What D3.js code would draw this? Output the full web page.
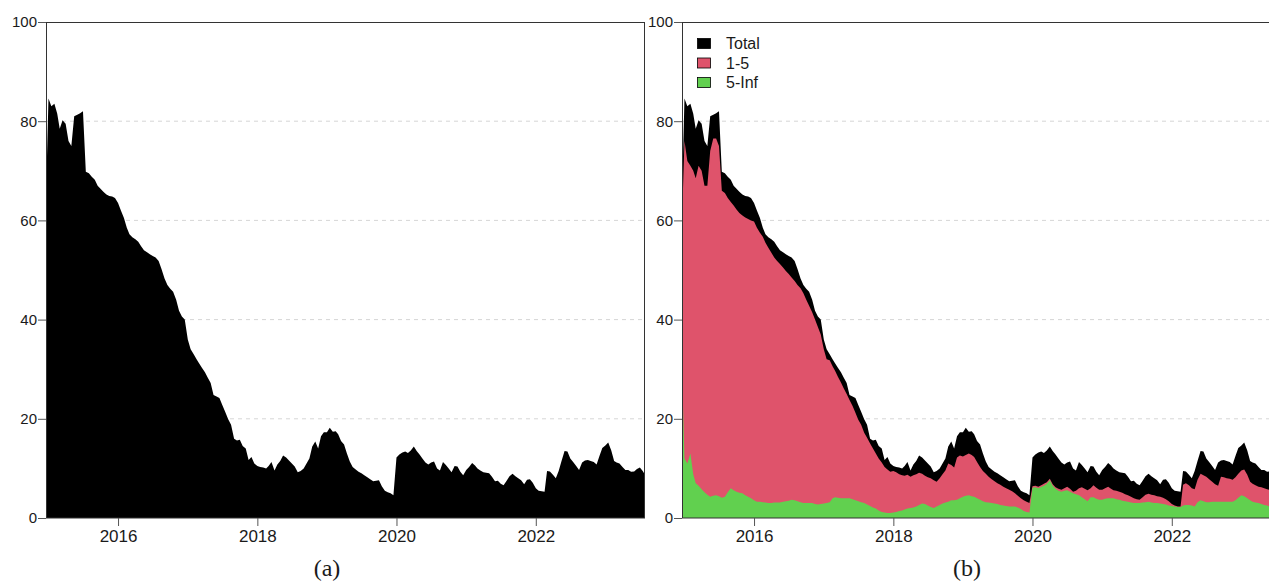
<!DOCTYPE html>
<html>
<head>
<meta charset="utf-8">
<script src="https://cdn.jsdelivr.net/npm/d3@7"></script>
<style>
  body { margin: 0; background: #fff; }
  svg { display: block; }
  .axis text { font-family: "Liberation Sans", Arial, sans-serif; fill: #1a1a1a; }
  .axis.y text { font-size: 15px; }
  .axis.x text { font-size: 17px; }
  .axis line { stroke: #555; }
  .axis path { display: none; }
  .legend text { font-family: "Liberation Sans", Arial, sans-serif; font-size: 16px; fill: #1a1a1a; }
  .caption { font-family: "Liberation Serif", "Times New Roman", serif; font-size: 24px; fill: #1a1a1a; }
</style>
</head>
<body>
<svg id="chart" width="1269" height="581"></svg>
<script>
// Share (%) per observation date, semi-monthly (1st and 16th) from Jan 2015,
// with the first and last observation of the sample added at both ends.
const firstObs = "2014-12-19";
const lastObs = "2023-07-28";

const seriesNames = ["Total", "1-5", "5-Inf"];
const seriesColors = ["#000000", "#DF536B", "#61D04F"];
const yTicks = [0, 20, 40, 60, 80, 100];
const xTickYears = [2016, 2018, 2020, 2022];
const panelCaptions = ["(a)", "(b)"];

const totalShare = [
  65,
  84.6, 83, 83.5, 81.5, 78.5, 80.2, 79.5, 76, 75, 81, 81.3, 81.6, 82, 69.8, 69.5, 68.8, 68.2, 67, 66.4, 65.8, 65.2, 64.9, 64.8, 64.5,
  63.5, 62, 60.5, 58.5, 57.2, 56.6, 56.2, 55.7, 54.8, 54, 53.6, 53.2, 52.8, 52.5, 51.8, 50.2, 48.3, 47, 46.2, 45.6, 44, 41.8, 40.6, 40,
  36, 34, 33, 32, 31.2, 30.3, 29.4, 28.3, 27.2, 24.8, 24.5, 24.2, 22.8, 21.4, 19.9, 18.8, 16, 15.6, 15.8, 14.5, 14, 11.7, 12.3, 11,
  10.5, 10.3, 10.2, 10, 10.5, 11.3, 9.6, 10.8, 11.5, 12.6, 12.2, 11.6, 11, 10.4, 9.2, 9.5, 10, 11, 12, 14.4, 15.4, 14, 16.5, 17.3,
  17.3, 18.2, 17.4, 17.5, 16.9, 15.5, 14.8, 13, 11.4, 10.3, 9.8, 9.3, 9, 8.6, 8.2, 7.8, 7.4, 7.5, 7.6, 6.4, 5.5, 5.2, 5, 4.6,
  12.2, 12.8, 13.2, 13.4, 13.1, 13.6, 14.4, 13.5, 12.8, 12, 11.2, 10.8, 11.2, 11.4, 10, 9.6, 11.3, 10.7, 10, 9.2, 10.5, 10.4, 9.3, 8.6,
  9.7, 10.3, 11.1, 10.6, 10, 9.6, 9.2, 9.1, 9, 8.3, 7.4, 7.5, 6.9, 6.6, 7.5, 8.4, 8.9, 8.4, 8, 7.6, 6.8, 7.7, 7.8, 7.1,
  6, 5.5, 5.4, 5.3, 9.5, 9.4, 8.7, 8, 9.5, 11.5, 13.5, 13.4, 12, 11.3, 10.5, 9.7, 11.2, 11.6, 11.7, 11.5, 11.3, 10.8, 12.5, 14.1,
  14.6, 15.2, 13.6, 11.5, 11.2, 11, 10.3, 9.7, 9.7, 9.3, 9.4, 9.9, 10.2, 9.5,
  8.7
];

const share1to5 = [
  60,
  76, 72, 71, 70, 68.5, 71, 70, 67, 67, 74, 76.5, 76.5, 75, 66, 65.5, 64.5, 63.7, 63, 62.2, 61.5, 61, 60.6, 60.3, 60,
  59.8, 58.5, 57.5, 56.7, 55.5, 54.5, 53.5, 52.5, 51.8, 51.2, 50.5, 49.8, 49.2, 48.5, 47.8, 47, 46.3, 45.3, 44, 42.8, 41.5, 40, 38.5, 37,
  34, 32, 31.8, 30.6, 29.7, 28.5, 27.3, 26.1, 25, 23.8, 22.6, 21.2, 19.8, 18.8, 17.2, 16.2, 15, 14, 13, 12, 11.2, 10.3, 9.8, 9.3,
  9.5, 9.2, 8.8, 8.6, 8.5, 8.7, 8.3, 8.6, 8.8, 9.1, 8.9, 8.5, 8.2, 8, 7.6, 7.3, 8, 8.8, 9.6, 11, 10.7, 10.2, 12.2, 12.6,
  12.4, 12.7, 13, 12.7, 12.3, 11.3, 10.3, 9.5, 8.9, 8.3, 7.8, 7.4, 7, 6.7, 6.3, 6, 5.7, 5.4, 5, 4.5, 4, 3.6, 3.3, 3,
  6.4, 6.5, 6.3, 6.6, 6.9, 7.2, 7.9, 6.8, 6.2, 5.9, 5.7, 6, 6.3, 5.9, 5.3, 5.5, 6, 6.2, 5.9, 5.6, 6, 6.6, 6.1, 5.7,
  5.7, 6, 6.3, 5.9, 5.6, 5.5, 5.3, 5.1, 4.8, 4.6, 4.3, 4, 3.8, 3.7, 4.2, 4.7, 4.9, 4.7, 4.6, 4.4, 4.3, 4.1, 3.8, 3.4,
  2.8, 2.5, 2.3, 2.3, 6.7, 7, 6.6, 6, 5.8, 7.7, 8.9, 8.6, 8.3, 7.8, 7.3, 6.8, 6.5, 8.3, 8.2, 8, 7.9, 7.7, 8.2, 8.9,
  9.6, 9.8, 8.7, 7.3, 6.9, 6.6, 6.3, 6.2, 6, 5.8, 5.6, 5.6, 5.8, 5.6,
  5.3
];

const share5Inf = [
  30,
  12, 11, 13, 8.8, 7, 6.5, 5.8, 5.2, 4.7, 4.3, 4.5, 4.6, 4.4, 4.1, 4.3, 5.2, 6, 5.6, 5.3, 5.1, 5, 4.6, 4.3, 4,
  3.6, 3.3, 3.3, 3.2, 3.1, 3, 3, 3.1, 3.1, 3.1, 3.3, 3.4, 3.5, 3.7, 3.6, 3.4, 3.2, 3, 3, 3, 3, 2.8, 2.7, 2.8,
  2.9, 3, 3.2, 4, 4.2, 4.1, 4, 4, 4, 4, 3.8, 3.6, 3.4, 3.2, 3, 2.7, 2.4, 2.1, 1.9, 1.5, 1.2, 1.1, 1, 1,
  1.1, 1.2, 1.4, 1.5, 1.7, 1.9, 2, 2.1, 2.3, 2.6, 2.9, 2.8, 2.5, 2.2, 2, 2.3, 2.6, 2.9, 3.1, 3.3, 3.6, 3.6, 3.7, 4,
  4.3, 4.5, 4.6, 4.4, 4.3, 4, 3.7, 3.4, 3.2, 3.1, 3, 2.9, 2.8, 2.6, 2.5, 2.4, 2.3, 2.3, 2.3, 2.1, 1.8, 1.4, 1.2, 1.1,
  6.1, 6.2, 6, 6.3, 6.5, 6.9, 7.6, 6.5, 5.9, 5.5, 5.3, 5.5, 5.6, 5.3, 5, 4.8, 4.6, 4.2, 3.8, 3.4, 4.2, 4.2, 3.9, 3.7,
  3.7, 3.9, 4, 4, 4, 3.8, 3.7, 3.5, 3.4, 3.3, 3.1, 3, 3, 3, 3.1, 3.2, 3.3, 3.1, 3, 3, 2.9, 2.8, 2.7, 2.5,
  2.4, 2.3, 2.2, 2.2, 2.5, 2.6, 2.6, 2.5, 2.3, 3.2, 3.6, 3.4, 3.2, 3.2, 3.3, 3.3, 3.3, 3.3, 3.3, 3.3, 3.3, 3.3, 3.6, 4.1,
  4.6, 4.4, 4, 3.6, 3.3, 3.1, 3, 2.8, 2.6, 2.5, 2.3, 2.3, 2.3, 2.2,
  2.2
];

// Observation dates: first obs, then the 1st and 16th of every month, then last obs.
const parse = d3.utcParse("%Y-%m-%d");
const obsDates = [
  parse(firstObs),
  ...d3.utcMonth.range(parse("2015-01-01"), parse("2023-08-01"))
      .flatMap(m => [m, d3.utcDay.offset(m, 15)]),
  parse(lastObs)
];

const svg = d3.select("#chart");
const panelW = 599, panelH = 496, panelTop = 22;
const panels = [
  { left: 46,  caption: panelCaptions[0], captionX: 327, layers: [0] },
  { left: 682, caption: panelCaptions[1], captionX: 967, layers: [0, 1, 2], legend: true }
];
const seriesValues = [totalShare, share1to5, share5Inf];

const x = d3.scaleUtc().domain([parse(firstObs), parse(lastObs)]).range([0, panelW]);
const y = d3.scaleLinear().domain([0, 100]).range([panelH, 0]);

const area = vals => d3.area()
  .x((d, i) => x(obsDates[i]))
  .y0(y(0))
  .y1((d) => y(d))(vals);

panels.forEach((p) => {
  const g = svg.append("g").attr("transform", `translate(${p.left},${panelTop})`);

  // dashed horizontal grid
  g.append("g").selectAll("line")
    .data(yTicks.filter(t => t > 0 && t < 100))
    .join("line")
    .attr("x1", 0).attr("x2", panelW)
    .attr("y1", d => y(d)).attr("y2", d => y(d))
    .attr("stroke", "#d6d6d6").attr("stroke-width", 1)
    .attr("stroke-dasharray", "4 4");

  // filled areas, drawn back to front
  p.layers.forEach(k => {
    g.append("path")
      .attr("d", area(seriesValues[k]))
      .attr("fill", seriesColors[k]);
  });

  // frame
  g.append("rect")
    .attr("x", 0.5).attr("y", 0.5)
    .attr("width", panelW - 1).attr("height", panelH - 0.5)
    .attr("fill", "none").attr("stroke", "#333").attr("stroke-width", 1);

  // axes
  g.append("g").attr("class", "axis y")
    .call(d3.axisLeft(y).tickValues(yTicks).tickSize(8).tickPadding(1));
  g.append("g").attr("class", "axis x")
    .attr("transform", `translate(0,${panelH})`)
    .call(d3.axisBottom(x)
      .tickValues(xTickYears.map(yr => new Date(Date.UTC(yr, 0, 1))))
      .tickFormat(d3.utcFormat("%Y"))
      .tickSize(8).tickPadding(4));

  // legend
  if (p.legend) {
    const lg = g.append("g").attr("class", "legend").attr("transform", "translate(15,16)");
    seriesNames.forEach((name, k) => {
      const row = lg.append("g").attr("transform", `translate(0,${k * 19.5})`);
      row.append("rect")
        .attr("x", 0.5).attr("y", 0.5).attr("width", 13).attr("height", 10)
        .attr("fill", seriesColors[k]).attr("stroke", "#000").attr("stroke-width", 0.8);
      row.append("text").attr("x", 29).attr("y", 11).text(name);
    });
  }

  // panel caption
  svg.append("text").attr("class", "caption")
    .attr("x", p.captionX).attr("y", 576)
    .attr("text-anchor", "middle")
    .text(p.caption);
});
</script>
</body>
</html>
